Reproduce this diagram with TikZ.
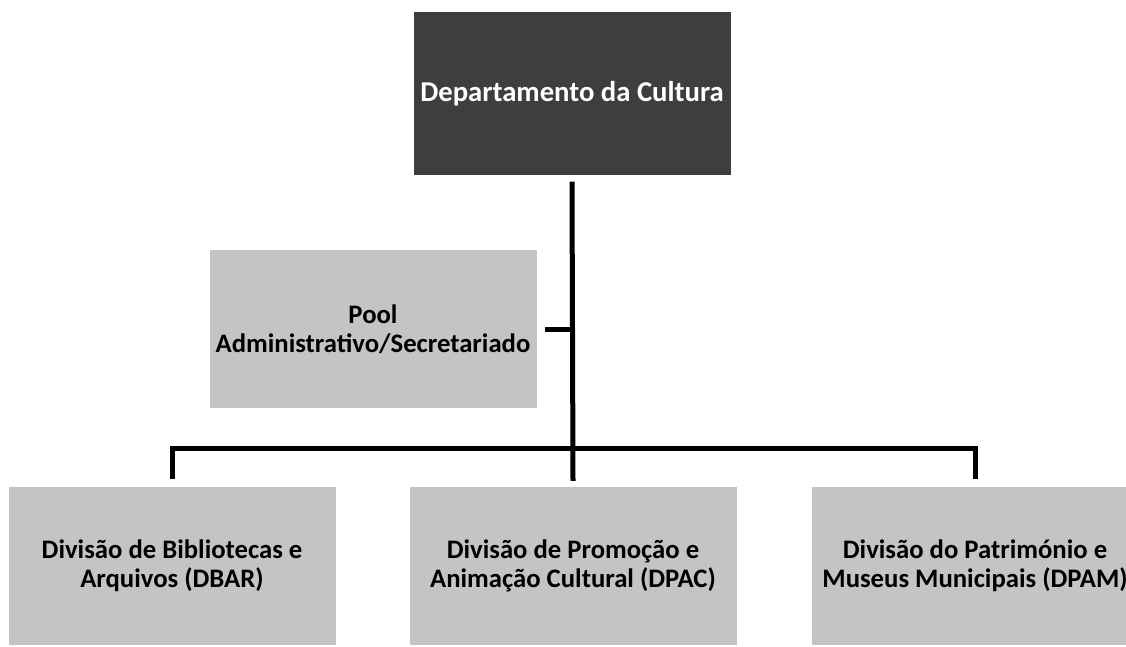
\documentclass[tikz,border=0pt]{standalone}
\usepackage{fontspec}
\setmainfont{Carlito}
\usetikzlibrary{positioning}
\usepackage{xcolor}
\definecolor{headgray}{RGB}{62,62,62}
\definecolor{unitgray}{RGB}{196,196,196}

\begin{document}
\begin{tikzpicture}[x=1pt, y=-1pt,
        headbox/.style={rectangle, fill=headgray, text=white, inner sep=0pt,
          minimum width=317pt, minimum height=163pt,
          font=\bfseries\fontsize{28.7}{32}\selectfont},
        unitbox/.style={rectangle, fill=unitgray, text=black, inner sep=0pt,
          minimum width=327pt, minimum height=158pt, align=center,
          font=\bfseries\fontsize{26.7}{29}\selectfont},
        orgline/.style={-, line width=5pt, draw=black}
      ]
      \clip (0,0) rectangle (1126,647);

      % Department (top)
      \node[headbox] (dept) at (572,94) {Departamento da Cultura};

      % Staff unit
      \node[unitbox] (pool) at (373,329) {Pool\\Administrativo/Secretariado};

      % Divisions
      \node[unitbox] (dbar) at (172,566) {Divisão de Bibliotecas e\\Arquivos (DBAR)};
      \node[unitbox] (dpac) at (573,566) {Divisão de Promoção e\\Animação Cultural (DPAC)};
      \node[unitbox] (dpam) at (975,566) {Divisão do Património e\\Museus Municipais (DPAM)};

      % Connections
      \coordinate (bus) at (575,448);
      \draw[orgline] ([yshift=-6pt]dept.south) -- ([yshift=6pt]dpac.north);
      \draw[orgline] ([xshift=8pt]pool.east) -- (pool.east -| bus);
      \draw[orgline] ([yshift=8pt]dbar.north) |- (bus) -| ([yshift=8pt]dpam.north);

    \end{tikzpicture}
\end{document}
